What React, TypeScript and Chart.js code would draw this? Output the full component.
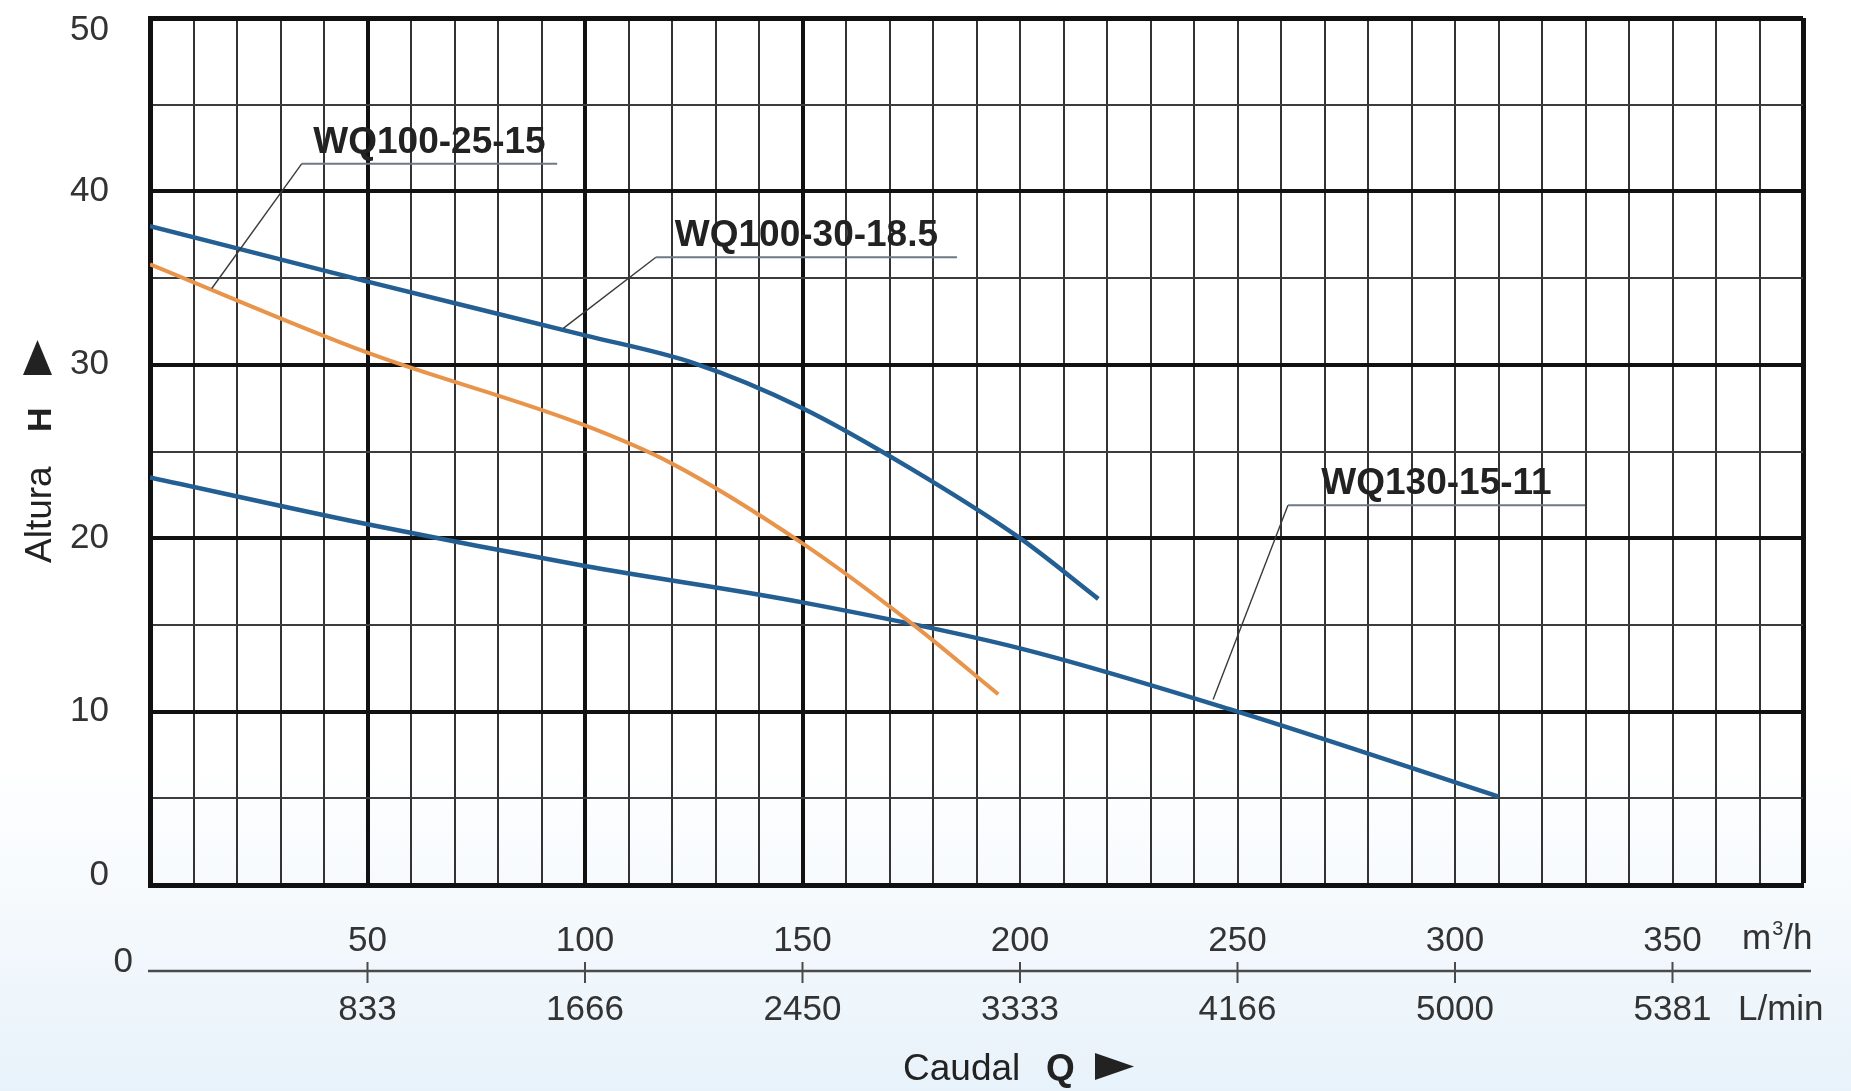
import React, { useEffect, useRef } from 'react';
import { Chart, registerables } from 'chart.js';

Chart.register(...registerables);

// ---- Data (flow Q in m³/h, head H in m) ----
const qWQ100_30 = [0, 50, 100, 125, 150, 175, 200, 218];
const hWQ100_30 = [38.0, 34.8, 31.7, 30.1, 27.5, 24.0, 20.0, 16.5];

const qWQ100_25 = [0, 50, 100, 120, 150, 175, 195];
const hWQ100_25 = [35.8, 30.7, 26.5, 24.3, 19.7, 15.1, 11.0];

const qWQ130_15 = [0, 50, 100, 150, 200, 250, 310];
const hWQ130_15 = [23.5, 20.8, 18.4, 16.3, 13.65, 10.0, 5.1];

const seriesNames = ['WQ100-30-18.5', 'WQ100-25-15', 'WQ130-15-11'];

const flowTicksM3h = [50, 100, 150, 200, 250, 300, 350];
const flowTicksLmin = ['833', '1666', '2450', '3333', '4166', '5000', '5381'];
const headMin = 0;
const headMax = 50;
const headLabelStep = 10;

// Callouts (data units): point on curve, elbow of leader, end of underline
const calloutNames = ['WQ100-25-15', 'WQ100-30-18.5', 'WQ130-15-11'];
const calloutPointQ = [14.2, 95.0, 244.4];
const calloutPointH = [34.4, 32.1, 10.7];
const calloutElbowQ = [34.9, 116.3, 261.6];
const calloutElbowH = [41.6, 36.2, 21.9];
const calloutEndQ = [93.6, 185.5, 329.9];

const FONT = "'Liberation Sans', Arial, Helvetica, sans-serif";

const toPoints = (qs: number[], hs: number[]) => qs.map((q, i) => ({ x: q, y: hs[i] }));

const overlayPlugin = {
  id: 'overlay',
  beforeDraw(chart: any) {
    const { ctx, width, height } = chart;
    ctx.save();
    ctx.fillStyle = '#ffffff';
    ctx.fillRect(0, 0, width, height);
    const g = ctx.createLinearGradient(0, 760, 0, height);
    g.addColorStop(0, 'rgba(232,242,250,0)');
    g.addColorStop(1, 'rgba(232,242,250,1)');
    ctx.fillStyle = g;
    ctx.fillRect(0, 760, width, height - 760);
    ctx.restore();
  },
  afterDraw(chart: any) {
    const { ctx } = chart;
    const xs = chart.scales.x;
    const ys = chart.scales.y;
    ctx.save();

    // --- end labels of the head axis (inset like the original print) ---
    ctx.fillStyle = '#333';
    ctx.font = `35px ${FONT}`;
    ctx.textAlign = 'right';
    ctx.textBaseline = 'middle';
    ctx.fillText(String(headMax), ys.right - 41, ys.getPixelForValue(headMax) + 12);
    ctx.fillText(String(headMin), ys.right - 41, ys.getPixelForValue(headMin) - 10);

    // --- callouts ---
    calloutNames.forEach((name, i) => {
      const px = xs.getPixelForValue(calloutPointQ[i]);
      const py = ys.getPixelForValue(calloutPointH[i]);
      const ex = xs.getPixelForValue(calloutElbowQ[i]);
      const ey = ys.getPixelForValue(calloutElbowH[i]);
      const lx = xs.getPixelForValue(calloutEndQ[i]);
      ctx.strokeStyle = '#3a3a3a';
      ctx.lineWidth = 1.4;
      ctx.beginPath();
      ctx.moveTo(px, py);
      ctx.lineTo(ex, ey);
      ctx.stroke();
      ctx.strokeStyle = '#6b7a86';
      ctx.lineWidth = 2;
      ctx.beginPath();
      ctx.moveTo(ex, ey);
      ctx.lineTo(lx, ey);
      ctx.stroke();
      ctx.fillStyle = '#222';
      ctx.font = `bold 37px ${FONT}`;
      ctx.textAlign = 'center';
      ctx.textBaseline = 'alphabetic';
      ctx.fillText(name, (ex + lx) / 2, ey - 11);
    });

    // --- secondary flow scale below the plot ---
    const axisY = 971;
    ctx.strokeStyle = '#4a4a4a';
    ctx.lineWidth = 2.5;
    ctx.beginPath();
    ctx.moveTo(xs.left - 2, axisY);
    ctx.lineTo(xs.right + 8, axisY);
    ctx.stroke();
    ctx.fillStyle = '#333';
    ctx.font = `35px ${FONT}`;
    ctx.textBaseline = 'alphabetic';
    flowTicksM3h.forEach((v, i) => {
      const px = xs.getPixelForValue(v);
      ctx.lineWidth = 2;
      ctx.beginPath();
      ctx.moveTo(px, axisY - 9);
      ctx.lineTo(px, axisY + 12);
      ctx.stroke();
      ctx.textAlign = 'center';
      ctx.fillText(String(v), px, 951);
      ctx.fillText(flowTicksLmin[i], px, 1020);
    });
    ctx.textAlign = 'right';
    ctx.fillText('0', xs.left - 17, 972);

    // units
    ctx.textAlign = 'left';
    let ux = 1742;
    ctx.fillText('m', ux, 949);
    ux += ctx.measureText('m').width + 1;
    ctx.font = `20px ${FONT}`;
    ctx.fillText('3', ux, 935);
    ux += ctx.measureText('3').width;
    ctx.font = `35px ${FONT}`;
    ctx.fillText('/h', ux, 949);
    ctx.fillText('L/min', 1738, 1020);

    // --- x title: Caudal Q ► ---
    ctx.fillStyle = '#222';
    ctx.font = `37px ${FONT}`;
    ctx.fillText('Caudal', 903, 1080);
    ctx.font = `bold 37px ${FONT}`;
    ctx.fillText('Q', 1046, 1080);
    ctx.beginPath();
    ctx.moveTo(1095, 1053);
    ctx.lineTo(1134, 1066.5);
    ctx.lineTo(1095, 1080);
    ctx.closePath();
    ctx.fill();

    // --- y title: Altura H ▲ (rotated) ---
    ctx.save();
    ctx.translate(50.5, 563);
    ctx.rotate(-Math.PI / 2);
    ctx.textAlign = 'left';
    ctx.font = `37px ${FONT}`;
    ctx.fillText('Altura', 0, 0);
    ctx.font = `bold 34px ${FONT}`;
    ctx.fillText('H', 131, 0);
    ctx.restore();
    ctx.beginPath();
    ctx.moveTo(37.5, 340);
    ctx.lineTo(52, 375);
    ctx.lineTo(23, 375);
    ctx.closePath();
    ctx.fill();

    ctx.restore();
  },
};

export default function App() {
  const ref = useRef<HTMLCanvasElement>(null);

  useEffect(() => {
    const canvas = ref.current;
    if (!canvas) return;
    const blue = '#235f93';
    const orange = '#e8944a';
    const chart = new Chart(canvas, {
      type: 'line',
      data: {
        datasets: [
          {
            label: seriesNames[0],
            data: toPoints(qWQ100_30, hWQ100_30),
            borderColor: blue,
            borderWidth: 4.5,
            pointRadius: 0,
            cubicInterpolationMode: 'monotone',
            fill: false,
          },
          {
            label: seriesNames[1],
            data: toPoints(qWQ100_25, hWQ100_25),
            borderColor: orange,
            borderWidth: 4,
            pointRadius: 0,
            cubicInterpolationMode: 'monotone',
            fill: false,
          },
          {
            label: seriesNames[2],
            data: toPoints(qWQ130_15, hWQ130_15),
            borderColor: blue,
            borderWidth: 4.5,
            pointRadius: 0,
            cubicInterpolationMode: 'monotone',
            fill: false,
          },
        ],
      },
      options: {
        responsive: false,
        animation: false,
        devicePixelRatio: 1,
        layout: { padding: { left: 0, right: 48, top: 18, bottom: 0 } },
        plugins: {
          legend: { display: false },
          tooltip: { enabled: false },
          title: { display: false },
        },
        scales: {
          x: {
            type: 'linear',
            position: 'bottom',
            min: 0,
            max: 380,
            ticks: { stepSize: 10, display: false },
            grid: {
              drawTicks: false,
              color: (c: any) => {
                const v = c.tick?.value;
                return v === 50 || v === 100 || v === 150 || v === 380 ? '#111' : '#333';
              },
              lineWidth: (c: any) => {
                const v = c.tick?.value;
                if (v === 380) return 5;
                if (v === 50 || v === 100 || v === 150) return 4;
                return 2;
              },
            },
            border: { display: true, width: 5, color: '#111' },
            afterFit: (s: any) => {
              s.height = 206;
            },
          },
          y: {
            type: 'linear',
            min: headMin,
            max: headMax,
            ticks: {
              stepSize: 5,
              autoSkip: false,
              padding: 0,
              color: '#333',
              font: { family: FONT, size: 35, lineHeight: 1 },
              callback: (v: any) => {
                const n = Number(v);
                if (n === headMin || n === headMax) return '';
                return n % headLabelStep === 0 ? String(n) : '';
              },
            },
            grid: {
              drawTicks: true,
              tickLength: 41,
              tickColor: 'rgba(0,0,0,0)',
              color: (c: any) => (Number(c.tick?.value) % 10 === 0 ? '#111' : '#3c3c3c'),
              lineWidth: (c: any) => {
                const v = Number(c.tick?.value);
                if (v === 50) return 5;
                return v % 10 === 0 ? 4 : 2;
              },
            },
            border: { display: true, width: 5, color: '#111' },
            afterFit: (s: any) => {
              s.width = 150;
            },
          },
        },
      },
      plugins: [overlayPlugin],
    } as any);
    return () => chart.destroy();
  }, []);

  return (
    <div style={{ position: 'absolute', left: 0, top: 0, width: 1851, height: 1091, background: '#fff' }}>
      <canvas ref={ref} width={1851} height={1091} style={{ display: 'block', width: 1851, height: 1091 }} />
    </div>
  );
}
